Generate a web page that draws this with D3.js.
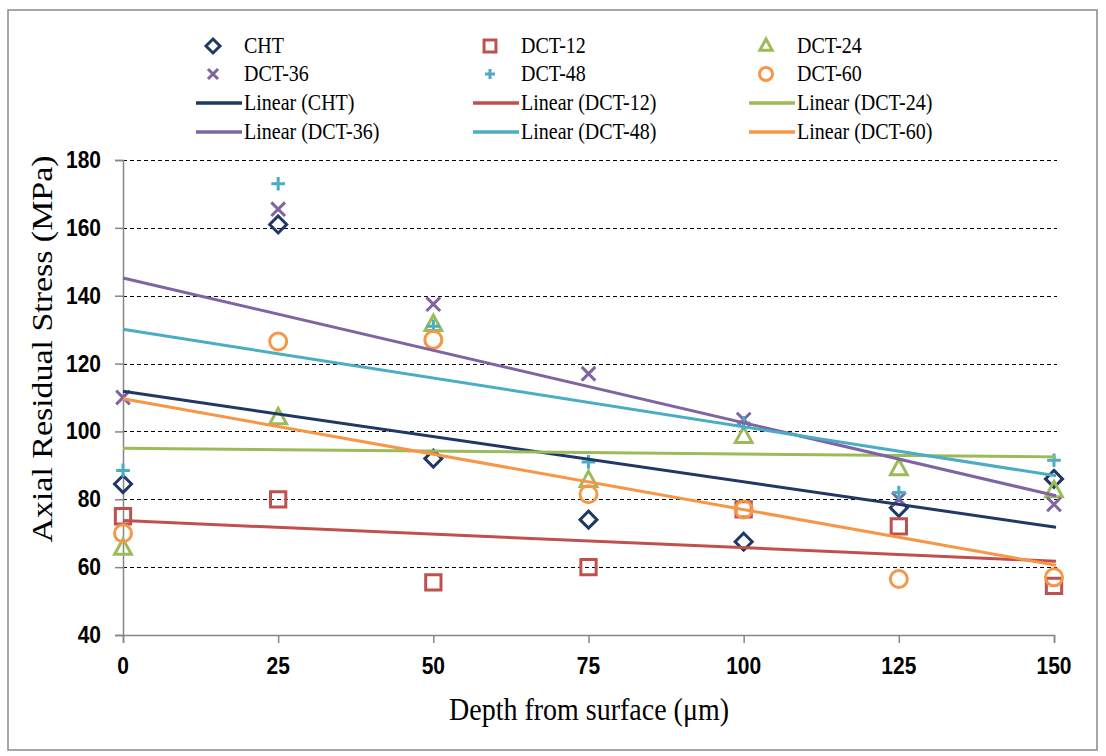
<!DOCTYPE html>
<html>
<head>
<meta charset="utf-8">
<script src="https://cdn.jsdelivr.net/npm/d3@7/dist/d3.min.js"></script>
<style>
html,body{margin:0;padding:0;background:#fff;}
svg{display:block;}
</style>
</head>
<body>
<svg id="chart" width="1106" height="756"></svg>
<script>
// ---- data ----
const depth = [0, 25, 50, 75, 100, 125, 150];
const seriesNames = ["CHT", "DCT-12", "DCT-24", "DCT-36", "DCT-48", "DCT-60"];
const cht   = [84.5, 161, 92, 74, 67.5, 77.5, 86];
const dct12 = [75, 80, 55.5, 60, 77, 72, 54.5];
const dct24 = [65.5, 104, 131.5, 85.5, 98.5, 89, 82.5];
const dct36 = [110, 165.5, 137.5, 117, 103.5, 80, 78.5];
const dct48 = [88.5, 173, 131, 91, 102.5, 82, 91.5];
const dct60 = [70, 126.5, 127, 81.5, 77, 56.5, 57];
const xTicks = [0, 25, 50, 75, 100, 125, 150];
const yTicks = [40, 60, 80, 100, 120, 140, 160, 180];
const xTitle = "Depth from surface (\u03bcm)";
const yTitle = "Axial Residual Stress (MPa)";

// ---- styles ----
const colors = ["#1F3864", "#C0504D", "#9BBB59", "#8064A2", "#4BACC6", "#F79646"];
const shapes = ["diamond", "square", "triangle", "x", "plus", "circle"];
const SY = 1.15; // vertical stretch of text seen in reference

const svg = d3.select("#chart");
const plot = {left: 123, right: 1054, top: 160, bottom: 635};

const x = d3.scaleLinear().domain([0, 150]).range([plot.left, plot.right]);
const y = d3.scaleLinear().domain([40, 180]).range([plot.bottom, plot.top]);

// frame
svg.append("rect").attr("x", 8).attr("y", 10).attr("width", 1089).attr("height", 740)
  .attr("fill", "#fff").attr("stroke", "#8a8a8a").attr("stroke-width", 1.5);

function txt(parent, px, py, str, o) {
  const t = parent.append("text")
    .attr("transform", `translate(${px},${py}) ${o.rotate ? "rotate(-90) scale(" + SY + ",1)" : "scale(1," + SY + ")"}`)
    .attr("text-anchor", o.anchor || "start")
    .attr("dominant-baseline", "central")
    .attr("font-family", o.family)
    .attr("font-size", o.size)
    .attr("font-weight", o.weight || "normal")
    .attr("fill", o.fill || "#000")
    .text(str);
  return t;
}

// gridlines (dashed)
svg.append("g").selectAll("line").data(yTicks.filter(d => d > 40)).join("line")
  .attr("x1", plot.left).attr("x2", plot.right + 3)
  .attr("y1", d => Math.round(y(d)) + 0.5).attr("y2", d => Math.round(y(d)) + 0.5)
  .attr("stroke", "#000").attr("stroke-width", 1).attr("stroke-dasharray", "4,3");

// axes
const gx = svg.append("g").attr("transform", `translate(0,${plot.bottom})`)
  .call(d3.axisBottom(x).tickValues(xTicks).tickSize(8).tickFormat(""));
const gy = svg.append("g").attr("transform", `translate(${plot.left},0)`)
  .call(d3.axisLeft(y).tickValues(yTicks).tickSize(8).tickFormat(""));
[gx, gy].forEach(g => {
  g.select(".domain").attr("stroke", "#868686").attr("stroke-width", 1.5);
  g.selectAll(".tick line").attr("stroke", "#868686").attr("stroke-width", 1.5);
});

const tickFont = {family: "'Liberation Sans Narrow', 'Liberation Sans', Arial, sans-serif", size: 21, weight: "bold", anchor: "middle"};
xTicks.forEach(v => txt(svg, x(v), 666, String(v), tickFont));
yTicks.forEach(v => txt(svg, 101, y(v), String(v), Object.assign({}, tickFont, {anchor: "end"})));

// axis titles
const serif = "'Liberation Serif', 'Times New Roman', serif";
txt(svg, 589, 709, xTitle, {family: serif, size: 28, anchor: "middle"});
txt(svg, 42, 349, yTitle, {family: serif, size: 29.5, anchor: "middle", rotate: true});

// markers
function markerPath(shape, s) {
  switch (shape) {
    case "diamond": return `M0,${-s}L${s},0L0,${s}L${-s},0Z`;
    case "square": { const h = s * 0.85; return `M${-h},${-h}H${h}V${h}H${-h}Z`; }
    case "triangle": return `M0,${-s}L${s * 0.88},${s * 0.62}L${-s * 0.88},${s * 0.62}Z`;
    case "x": { const h = s * 0.72; return `M${-h},${-h}L${h},${h}M${-h},${h}L${h},${-h}`; }
    case "plus": { const h = s * 0.72; return `M${-h},0H${h}M0,${-h}V${h}`; }
  }
  return null;
}
function drawMarker(g, shape, cx, cy, s, color, sw) {
  if (shape === "circle") {
    g.append("circle").attr("cx", cx).attr("cy", cy).attr("r", s)
      .attr("fill", "none").attr("stroke", color).attr("stroke-width", sw);
  } else {
    g.append("path").attr("d", markerPath(shape, s)).attr("transform", `translate(${cx},${cy})`)
      .attr("fill", "none").attr("stroke", color).attr("stroke-width", sw);
  }
}

const seriesData = [cht, dct12, dct24, dct36, dct48, dct60];
const series = seriesNames.map((name, i) => ({name, values: seriesData[i], color: colors[i], shape: shapes[i]}));

// linear regression trendlines
function fit(xs, ys) {
  const n = xs.length, mx = d3.mean(xs), my = d3.mean(ys);
  let sxy = 0, sxx = 0;
  for (let i = 0; i < n; i++) { sxy += (xs[i] - mx) * (ys[i] - my); sxx += (xs[i] - mx) ** 2; }
  const b = sxy / sxx; return {a: my - b * mx, b};
}

const markerSize = {diamond: 8.5, square: 9, triangle: 9.5, x: 9.5, plus: 9.5, circle: 8.5};
const gm = svg.append("g");
series.forEach(s => {
  s.values.forEach((v, i) => drawMarker(gm, s.shape, x(depth[i]), y(v), markerSize[s.shape], s.color, 3));
});

const gl = svg.append("g");
series.forEach(s => {
  const f = fit(depth, s.values);
  const ends = [0, 150];
  gl.append("line")
    .attr("x1", x(ends[0])).attr("y1", y(f.a + f.b * ends[0]))
    .attr("x2", x(ends[1]) + 2).attr("y2", y(f.a + f.b * ends[1]))
    .attr("stroke", s.color).attr("stroke-width", 3);
});

// legend
const legFont = {family: serif, size: 20};
const colX = [213, 490, 766];
const rowY = [46, 74, 103, 132];
series.forEach((s, i) => {
  const c = i % 3, r = Math.floor(i / 3);
  drawMarker(svg, s.shape, colX[c], rowY[r], s.shape === "circle" ? 6.5 : 7, s.color, 3);
  txt(svg, colX[c] + 31, rowY[r], s.name, legFont);
  const r2 = r + 2;
  svg.append("line").attr("x1", colX[c] - 17).attr("x2", colX[c] + 29)
    .attr("y1", rowY[r2]).attr("y2", rowY[r2]).attr("stroke", s.color).attr("stroke-width", 3.5);
  txt(svg, colX[c] + 31, rowY[r2], `Linear (${s.name})`, legFont);
});
</script>
</body>
</html>
